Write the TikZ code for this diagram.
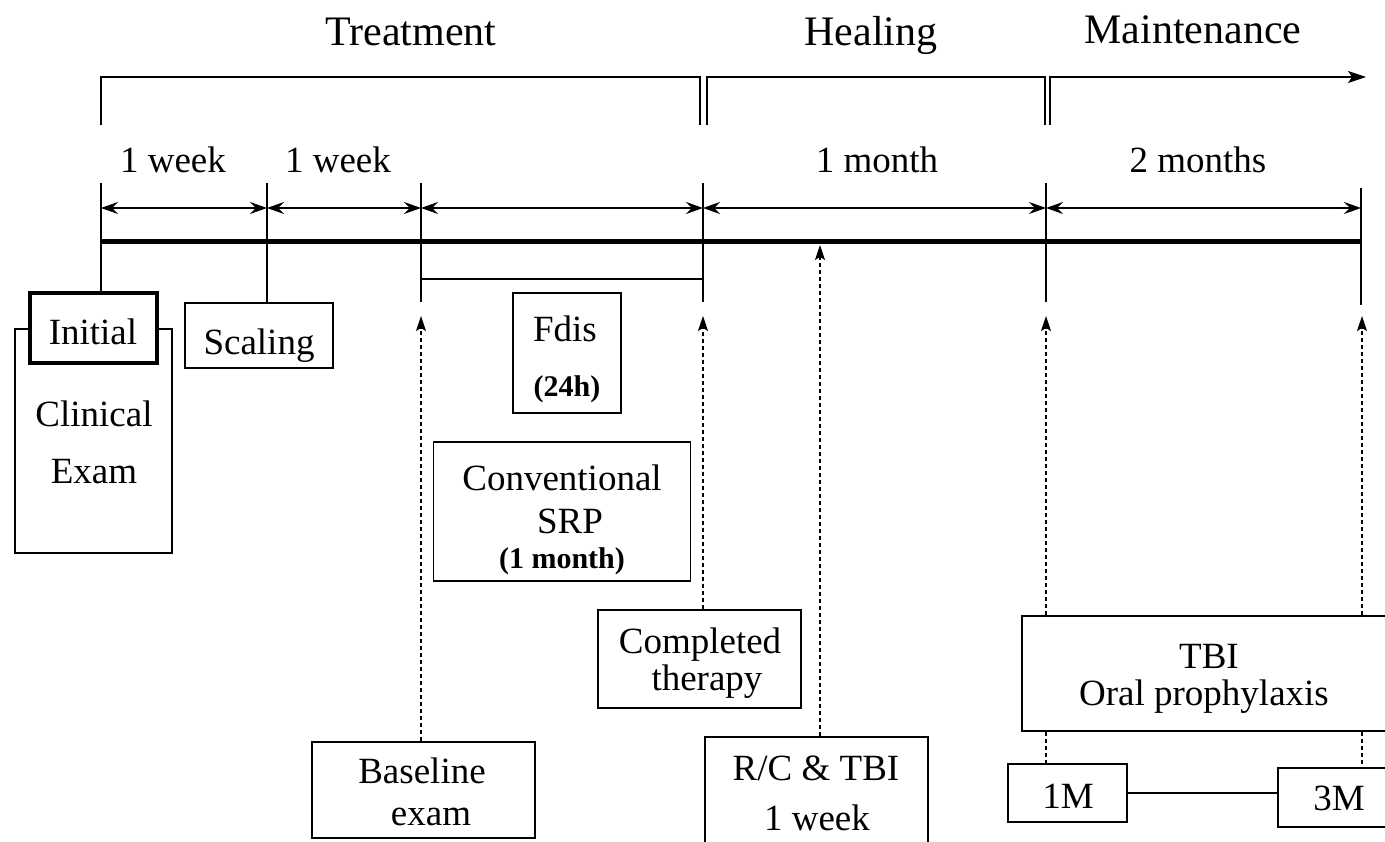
\documentclass[tikz,border=0pt]{standalone}
\usepackage{fontspec}
\setmainfont{Liberation Serif}
\usetikzlibrary{arrows.meta}
\begin{document}
\begin{tikzpicture}[x=1pt,y=-1pt,
  box/.style={draw, line width=1.8pt, inner sep=0pt, fill=white},
  txt/.style={font=\fontsize{37}{40}\selectfont, inner sep=0pt, anchor=base},
  hdr/.style={font=\fontsize{42}{46}\selectfont, inner sep=0pt, anchor=base},
  btxt/.style={font=\fontsize{30}{34}\selectfont\bfseries, inner sep=0pt, anchor=base},
  conn/.style={line width=1.3pt},
  dconn/.style={line width=1.3pt, dash pattern=on 4pt off 3pt},
  upar/.style={dconn, -{Stealth[length=15pt,width=10pt,inset=3pt]}},
  dimar/.style={line width=1.3pt, {Stealth[length=17pt,width=12pt,inset=6pt]}-{Stealth[length=17pt,width=12pt,inset=6pt]}},
  tline/.style={line width=5pt},
  brk/.style={line width=1.8pt}]
\clip (0,0) rectangle (1385,842);
\fill[white] (0,0) rectangle (1385,842);

% headers
\node[hdr] (hT) at (411,46) {Treatment};
\node[hdr] (hH) at (871,46) {Healing};
\node[hdr] (hM) at (1193,44) {Maintenance};

% brackets
\draw[brk] (101,125) |- (700,77) -- (700,125);
\draw[brk] (707,125) |- (1045,77) -- (1045,125);
\draw[brk, -{Stealth[length=18pt,width=12pt,inset=4pt]}] (1050,125) |- (1366,77);

% durations
\node[txt] (w1) at (173,173) {1 week};
\node[txt] (w2) at (338,173) {1 week};
\node[txt] (m1l) at (877,173) {1 month};
\node[txt] (m2l) at (1198,173) {2 months};

% timeline coordinates
\coordinate (t1) at (101,242);
\coordinate (t2) at (267,242);
\coordinate (t3) at (421,242);
\coordinate (t4) at (703,242);
\coordinate (t5) at (1046,242);
\coordinate (t6) at (1361,242);
\coordinate (u1) at (101,183);
\coordinate (u2) at (267,183);
\coordinate (u3) at (421,183);
\coordinate (u4) at (703,183);
\coordinate (u5) at (1046,183);
\coordinate (u6) at (1361,188);
\coordinate (d1) at (101,208);
\coordinate (d2) at (267,208);
\coordinate (d3) at (421,208);
\coordinate (d4) at (703,208);
\coordinate (d5) at (1046,208);
\coordinate (d6) at (1361,208);
\coordinate (l3) at (421,302);
\coordinate (l4) at (703,302);
\coordinate (l5) at (1046,302);
\coordinate (l6) at (1361,305);
\coordinate (f3) at (421,279);
\coordinate (f4) at (703,279);
\coordinate (a3) at (421,316);
\coordinate (a4) at (703,316);
\coordinate (a5) at (1046,316);
\coordinate (a6) at (1362,316);
\coordinate (a7) at (820,245);

% boxes
\node[box, minimum width=157, minimum height=224] (clin) at (93.5,441) {};
\node[box, line width=3.6pt, minimum width=127, minimum height=70] (init) at (93.5,328) {};
\node[box, minimum width=148, minimum height=65] (scal) at (259,335.5) {};
\node[box, minimum width=108, minimum height=120] (fdis) at (567,353) {};
\node[box, minimum width=257, minimum height=139] (srp) at (562,511.5) {};
\node[box, minimum width=203, minimum height=98] (comp) at (699.5,659) {};
\node[box, minimum width=223, minimum height=96] (base) at (423.5,790) {};
\node[box, minimum width=223, minimum height=150] (rc) at (816.5,812) {};
\node[box, minimum width=390, minimum height=115] (tbi) at (1217,673.5) {};
\node[box, minimum width=119, minimum height=58] (mo1) at (1067.5,793) {};
\node[box, minimum width=130, minimum height=59] (mo3) at (1343,797.5) {};

% texts
\node[txt] (xInit) at (93,345) {Initial};
\node[txt] (xClin) at (94,427) {Clinical};
\node[txt] (xExam) at (94,483) {Exam};
\node[txt] (xScal) at (259,355) {Scaling};
\node[txt] (xFdis) at (565,342) {Fdis};
\node[btxt] (x24h) at (567,397) {(24h)};
\node[txt] (xConv) at (562,490) {Conventional};
\node[txt] (xSRP) at (570,533) {SRP};
\node[btxt] (xMon) at (562,568) {(1 month)};
\node[txt] (xComp) at (700,653) {Completed};
\node[txt] (xTher) at (707,690) {therapy};
\node[txt] (xBase) at (422,783) {Baseline};
\node[txt] (xExam2) at (431,825) {exam};
\node[txt] (xRC) at (816,780) {R/C \& TBI};
\node[txt] (xWk) at (817,830) {1 week};
\node[txt] (xTBI) at (1209,668) {TBI};
\node[txt] (xOral) at (1204,705) {Oral prophylaxis};
\node[txt] (x1M) at (1068,808) {1M};
\node[txt] (x3M) at (1339,810) {3M};

% timeline
\draw[tline] (t1) -- (t6);
\draw[conn] (u1) -- (init.north -| u1);
\draw[conn] (u2) -- (scal.north -| u2);
\draw[conn] (u3) -- (l3);
\draw[conn] (u4) -- (l4);
\draw[conn] (u5) -- (l5);
\draw[conn] (u6) -- (l6);
\draw[conn] (f3) -- (f4);

% dimension arrows
\draw[dimar] (d1) -- (d2);
\draw[dimar] (d2) -- (d3);
\draw[dimar] (d3) -- (d4);
\draw[dimar] (d4) -- (d5);
\draw[dimar] (d5) -- (d6);

% upward dashed arrows
\draw[upar] (base.north -| a3) -- (a3);
\draw[upar] (comp.north -| a4) -- (a4);
\draw[upar] (rc.north -| a7) -- (a7);
\draw[upar] (tbi.north -| a5) -- (a5);
\draw[upar] (tbi.north -| a6) -- (a6);

% lower connectors
\draw[dconn] (tbi.south -| a5) -- (mo1.north -| a5);
\draw[dconn] (tbi.south -| a6) -- (mo3.north -| a6);
\draw[conn] (mo1.east) -- (mo1.east -| mo3.west);
\end{tikzpicture}
\end{document}
